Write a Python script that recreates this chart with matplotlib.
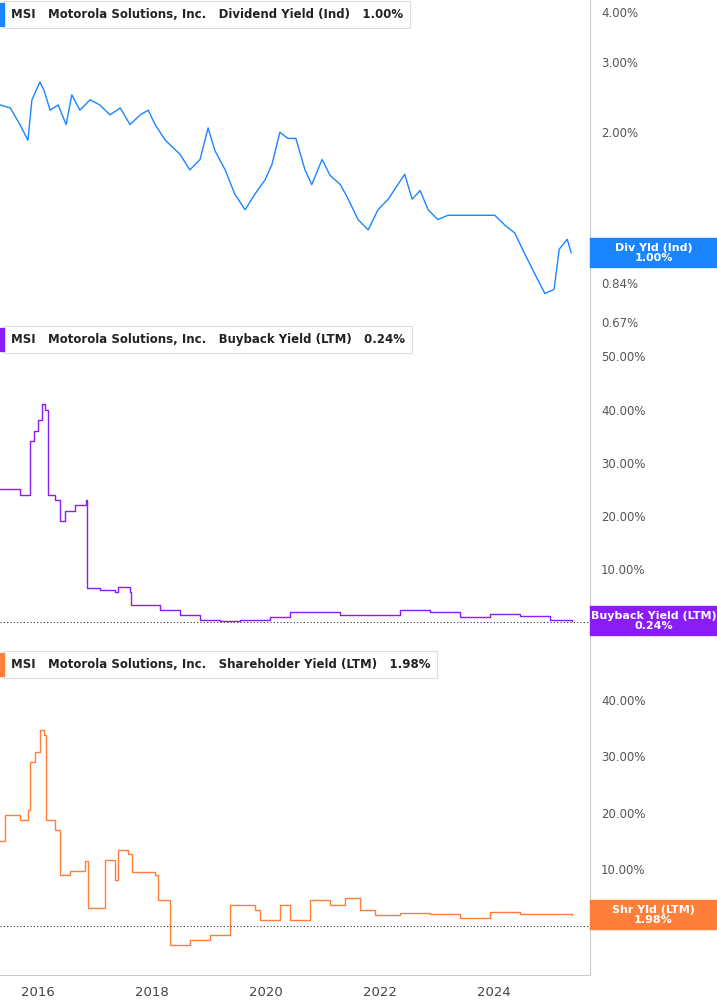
import matplotlib
matplotlib.use("Agg")
import matplotlib.pyplot as plt
import matplotlib.ticker as mticker

# dates as decimal years, values in %
div_t = [2015.33, 2015.51, 2015.68, 2015.82, 2015.89, 2016.03, 2016.10, 2016.21, 2016.35, 2016.49,
         2016.59, 2016.73, 2016.91, 2017.08, 2017.26, 2017.44, 2017.61, 2017.79, 2017.93, 2018.05,
         2018.23, 2018.49, 2018.66, 2018.84, 2018.98, 2019.10, 2019.28, 2019.45, 2019.63, 2019.80,
         2019.98, 2020.10, 2020.24, 2020.38, 2020.52, 2020.68, 2020.80, 2020.98, 2021.12, 2021.30,
         2021.44, 2021.61, 2021.79, 2021.96, 2022.14, 2022.31, 2022.43, 2022.56, 2022.70, 2022.84,
         2023.01, 2023.19, 2023.36, 2023.58, 2023.79, 2024.01, 2024.19, 2024.36, 2024.54, 2024.72,
         2024.89, 2025.05, 2025.14, 2025.28, 2025.35]
div_v = [2.34, 2.30, 2.09, 1.91, 2.41, 2.67, 2.55, 2.27, 2.34, 2.09,
         2.48, 2.27, 2.41, 2.34, 2.21, 2.30, 2.09, 2.21, 2.27, 2.09,
         1.91, 1.76, 1.61, 1.71, 2.05, 1.80, 1.61, 1.40, 1.28, 1.40,
         1.52, 1.66, 2.00, 1.93, 1.93, 1.61, 1.48, 1.71, 1.56, 1.48,
         1.36, 1.21, 1.14, 1.28, 1.36, 1.48, 1.57, 1.36, 1.43, 1.28,
         1.21, 1.24, 1.24, 1.24, 1.24, 1.24, 1.17, 1.12, 0.99, 0.88,
         0.79, 0.81, 1.02, 1.08, 1.00]

bb_t = [2015.33, 2015.68, 2015.82, 2015.86, 2015.93, 2016.00, 2016.07, 2016.12, 2016.17, 2016.30,
        2016.38, 2016.47, 2016.65, 2016.84, 2016.86, 2017.08, 2017.35, 2017.40, 2017.61, 2017.63,
        2018.14, 2018.49, 2018.84, 2019.19, 2019.54, 2020.07, 2020.42, 2020.94, 2021.29, 2021.82,
        2022.35, 2022.87, 2023.40, 2023.93, 2024.45, 2024.98, 2025.37]
bb_v = [25.0, 24.0, 24.0, 34.0, 36.0, 38.0, 41.0, 40.0, 24.0, 23.0,
        19.0, 21.0, 22.0, 23.0, 6.4, 6.0, 5.7, 6.6, 5.7, 3.2,
        2.3, 1.3, 0.4, 0.2, 0.4, 0.9, 1.9, 1.9, 1.3, 1.3,
        2.3, 1.9, 0.9, 1.5, 1.1, 0.4, 0.24]

shy_t = [2015.33, 2015.42, 2015.68, 2015.82, 2015.86, 2015.94, 2016.03, 2016.10, 2016.14, 2016.30,
         2016.38, 2016.56, 2016.82, 2016.87, 2017.08, 2017.17, 2017.35, 2017.40, 2017.58, 2017.65,
         2018.05, 2018.10, 2018.31, 2018.66, 2019.01, 2019.36, 2019.80, 2019.89, 2020.24, 2020.42,
         2020.77, 2021.12, 2021.38, 2021.65, 2021.91, 2022.35, 2022.87, 2023.40, 2023.93, 2024.45,
         2024.98, 2025.37]
shy_v = [15.0, 19.6, 18.8, 20.5, 29.0, 30.8, 34.7, 33.8, 18.8, 17.0,
         9.0, 9.7, 11.5, 3.2, 3.2, 11.7, 8.1, 13.5, 12.7, 9.6,
         9.0, 4.6, -3.4, -2.5, -1.6, 3.7, 2.8, 1.1, 3.7, 1.1,
         4.6, 3.7, 4.9, 2.8, 1.9, 2.3, 2.1, 1.4, 2.5, 2.1,
         2.1, 1.98]

# tick labels (values hidden behind the value tag are left out)
div_ticks = [0.67, 0.84, 2.0, 3.0, 4.0]
bb_ticks = [10, 20, 30, 40, 50]
shy_ticks = [10, 20, 30, 40]
x_years = [2016, 2018, 2020, 2022, 2024]

BLUE = "#1a85ff"
PURPLE = "#8a1cf5"
ORANGE = "#ff7f3a"
GRID = "#cccccc"

fig = plt.figure(figsize=(7.17, 10.05), dpi=100)
right = 590 / 717
xlim = (2015.33, 2025.68)

panels = [
    (0.677, 0.323, div_t, div_v, BLUE, div_ticks, (0.661, 4.28),
     "Dividend Yield (Ind)", "1.00%", "Div Yld (Ind)", False),
    (0.353, 0.324, bb_t, bb_v, PURPLE, bb_ticks, (-5.3, 56),
     "Buyback Yield (LTM)", "0.24%", "Buyback Yield (LTM)", True),
    (0.030, 0.323, shy_t, shy_v, ORANGE, shy_ticks, (-8.7, 48.8),
     "Shareholder Yield (LTM)", "1.98%", "Shr Yld (LTM)", True),
]

axes = []
for bottom, h, t, v, col, ticks, ylim, name, last, tag, steps in panels:
    ax = fig.add_axes([0, bottom, right, h])
    axes.append(ax)
    if steps:
        ax.plot(t, v, color=col, lw=1.0, drawstyle="steps-post")
        ax.axhline(0, color="#333333", lw=0.8, ls=(0, (1, 2)))
    else:
        ax.plot(t, v, color=col, lw=1.0)
        ax.set_yscale("log")
        ax.yaxis.set_minor_locator(mticker.NullLocator())
    ax.set_xlim(*xlim)
    ax.set_ylim(*ylim)
    ax.yaxis.tick_right()
    ax.set_yticks(ticks)
    ax.set_yticklabels([f"{x:.2f}%" for x in ticks])
    ax.tick_params(axis="y", length=0, labelsize=8.5, labelcolor="#555555", pad=8)
    for s in ("left", "top"):
        ax.spines[s].set_visible(False)
    ax.spines["right"].set_color(GRID)
    ax.spines["bottom"].set_color(GRID)
    ax.set_xticks(x_years)
    ax.tick_params(axis="x", length=0)
    ax.set_xticklabels([])

    # legend box with coloured marker on the left
    ax.text(0.018, 0.955, f"MSI   Motorola Solutions, Inc.   {name}   {last}",
            transform=ax.transAxes, fontsize=8.5, fontweight="bold", va="center",
            ha="left", color="#222222",
            bbox=dict(boxstyle="square,pad=0.6", fc="white", ec="#dddddd", lw=0.8))
    ax.add_patch(plt.Rectangle((0.0, 0.92), 0.006, 0.07, transform=ax.transAxes,
                               color=col, clip_on=False, zorder=5))

    # right value tag spanning the full margin
    ytag = ax.transAxes.inverted().transform(ax.transData.transform((t[-1], v[-1])))[1]
    tag_h = 0.088
    ax.add_patch(plt.Rectangle((1.0, ytag - tag_h / 2), (717 - 590) / 590, tag_h,
                               transform=ax.transAxes, color=col, clip_on=False, zorder=5))
    ax.text(1.0 + (717 - 590) / 590 / 2, ytag, f"{tag}\n{last}", transform=ax.transAxes,
            ha="center", va="center", fontsize=8, fontweight="bold", color="white",
            linespacing=1.0, zorder=6)

# bottom x labels
axes[-1].set_xticklabels([str(y) for y in x_years])
axes[-1].tick_params(axis="x", labelsize=9.5, labelcolor="#444444", pad=8)

fig.savefig("out.png", dpi=100)
